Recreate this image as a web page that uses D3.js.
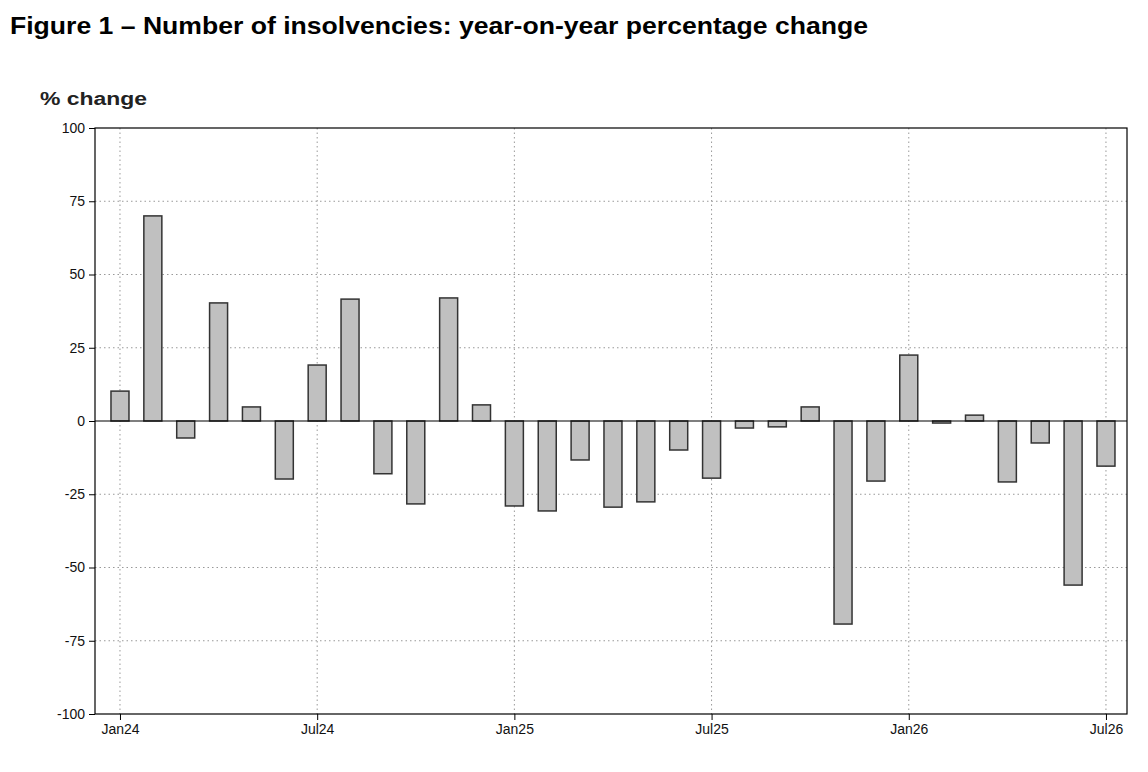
<!DOCTYPE html>
<html><head><meta charset="utf-8">
<script src="https://cdn.jsdelivr.net/npm/d3@7"></script>
<style>body{margin:0;background:#fff;font-family:"Liberation Sans",Arial,sans-serif}</style>
</head><body><svg id="c" width="1148" height="772"></svg>
<script>
const months = ["Jan24","Feb24","Mar24","Apr24","May24","Jun24","Jul24","Aug24","Sep24","Oct24","Nov24","Dec24","Jan25","Feb25","Mar25","Apr25","May25","Jun25","Jul25","Aug25","Sep25","Oct25","Nov25","Dec25","Jan26","Feb26","Mar26","Apr26","May26","Jun26","Jul26"];
const values = [10.2,70,-5.8,40.3,4.8,-19.8,19.1,41.6,-18,-28.3,42,5.5,-29,-30.7,-13.3,-29.4,-27.6,-9.9,-19.5,-2.4,-2,4.8,-69.3,-20.5,22.5,-0.7,2,-20.8,-7.5,-56,-15.4];
const xTickLabels = ["Jan24","Jul24","Jan25","Jul25","Jan26","Jul26"];
const yTicks = [100,75,50,25,0,-25,-50,-75,-100];

const svg = d3.select("#c");
const L=95,R=1127,T=128,B=714;
const x = d3.scaleLinear().domain([-0.76,30.64]).range([L,R]);
const y = d3.scaleLinear().domain([-100,100]).range([B,T]);
const xt = xTickLabels.map(l=>months.indexOf(l));

svg.append("text").attr("x",10).attr("y",34).attr("font-size",24).attr("font-weight","bold").attr("textLength",858).attr("lengthAdjust","spacingAndGlyphs").text("Figure 1 – Number of insolvencies: year-on-year percentage change");
svg.append("text").attr("x",40).attr("y",105).attr("font-size",18).attr("font-weight","bold").attr("fill","#222").attr("textLength",107).attr("lengthAdjust","spacingAndGlyphs").text("% change");

const g = svg.append("g");
yTicks.forEach(v=>{ if(v!==0 && Math.abs(v)!==100) g.append("line").attr("x1",L).attr("x2",R).attr("y1",y(v)).attr("y2",y(v)).attr("stroke","#999").attr("stroke-dasharray","1.5,3");});
xt.forEach(i=>g.append("line").attr("x1",x(i)).attr("x2",x(i)).attr("y1",T).attr("y2",B).attr("stroke","#999").attr("stroke-dasharray","1.5,3"));

g.selectAll("rect.bar").data(values).join("rect").attr("class","bar")
 .attr("x",(d,i)=>x(i)-9).attr("width",18)
 .attr("y",d=>y(Math.max(0,d))).attr("height",d=>Math.abs(y(d)-y(0)))
 .attr("fill","#c0c0c0").attr("stroke","#333").attr("stroke-width",1.5);

g.append("line").attr("x1",L).attr("x2",R).attr("y1",y(0)).attr("y2",y(0)).attr("stroke","#000").attr("stroke-width",1.2);
g.append("rect").attr("x",L).attr("y",T).attr("width",R-L).attr("height",B-T).attr("fill","none").attr("stroke","#000").attr("stroke-width",1.2);

const ya = svg.append("g").attr("transform",`translate(${L},0)`).call(d3.axisLeft(y).tickValues(yTicks).tickFormat(d=>String(d)).tickSize(6).tickPadding(4));
ya.select(".domain").remove();
ya.selectAll("text").attr("font-size",14).attr("font-family","Liberation Sans, Arial").attr("fill","#111");
const xa = svg.append("g").attr("transform",`translate(0,${B})`).call(d3.axisBottom(x).tickValues(xt).tickFormat(i=>months[i]).tickSize(6).tickPadding(4));
xa.select(".domain").remove();
xa.selectAll("text").attr("font-size",14).attr("font-family","Liberation Sans, Arial").attr("fill","#111");
</script></body></html>
